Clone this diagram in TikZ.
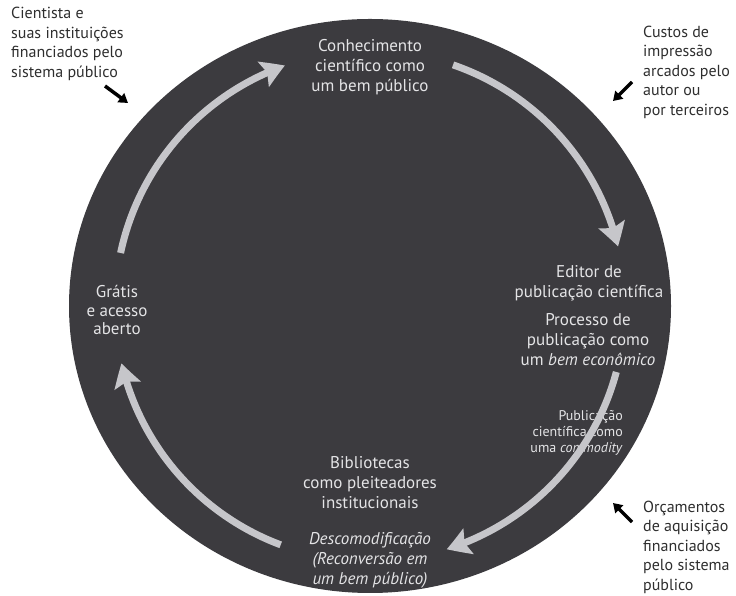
\documentclass[tikz,border=0pt]{standalone}
\usepackage{fontspec}
\setmainfont{PT Sans}
\usetikzlibrary{arrows.meta,bending}
\definecolor{disc}{HTML}{3C3B3F}
\definecolor{arccol}{HTML}{C6C6CA}
\definecolor{intext}{HTML}{E4E4E6}
\definecolor{outtext}{HTML}{2E2E2E}
\begin{document}
\begin{tikzpicture}[x=1pt,y=1pt,
  intxt/.style={text=intext, align=center, font=\fontsize{17}{20}\selectfont, inner sep=0pt},
  smalltxt/.style={text=intext, align=right, anchor=east, font=\fontsize{14}{16}\selectfont, inner sep=0pt},
  outtxt/.style={text=outtext, align=left, anchor=west, font=\fontsize{16}{19.5}\selectfont, inner sep=0pt},
  cyc/.style={draw=arccol, line width=7pt, -{Stealth[length=23pt,width=27pt,inset=4pt,bend]}},
  ptr/.style={draw=black, line width=3.5pt, -{Triangle[length=9pt,width=11pt]}}]
\useasboundingbox (0,0) rectangle (736,596);
\coordinate (c) at (370,290);
\fill[disc] (c) ellipse[x radius=301, y radius=287];

% texts inside
\node[intxt] (know) at (370,529) {Conhecimento\\científico como\\um bem público};
\node[intxt] (editor) at (589,313) {Editor de\\publicação científica};
\node[intxt] (proc) at (588,256) {Processo de\\publicação como\\um \textit{bem econômico}};
\node[smalltxt] (pub) at (623,163) {Publicação\\científica como\\uma \textit{commodity}};
\node[intxt] (bib) at (370,113) {Bibliotecas\\como pleiteadores\\institucionais};
\node[intxt] (desc) at (370,36) {\textit{Descomodificação}\\\textit{(Reconversão em}\\\textit{um bem público)}};
\node[intxt, font=\fontsize{17}{18.5}\selectfont] (free) at (117,286) {Grátis\\e acesso\\aberto};

% cycle arrows
\coordinate (a1s) at ([shift={(168:255)}]c);
\coordinate (a2s) at ([shift={(71:255)}]c);
\coordinate (a3s) at ([shift={(-15:255)}]c);
\coordinate (a4s) at ([shift={(-110.5:255)}]c);
\draw[cyc] (a1s) arc[start angle=168, end angle=109.5, radius=255];
\draw[cyc] (a2s) arc[start angle=71, end angle=13.5, radius=255];
\draw[cyc] (a3s) arc[start angle=-15, end angle=-72.5, radius=255];
\draw[cyc] (a4s) arc[start angle=-110.5, end angle=-167, radius=255];

% outside labels
\node[outtxt] (sci) at (11,552) {Cientista e\\suas instituições\\financiados pelo\\sistema público};
\node[outtxt] (cost) at (643,524) {Custos de\\impressão\\arcados pelo\\autor ou\\por terceiros};
\node[outtxt] (budget) at (643,49) {Orçamentos\\de aquisição\\financiados\\pelo sistema\\público};

\coordinate (p1s) at (105,510); \coordinate (p1e) at (128,493);
\coordinate (p2s) at (632,514); \coordinate (p2e) at (613,495);
\coordinate (p3s) at (632,74);  \coordinate (p3e) at (613,93);
\draw[ptr] (p1s) -- (p1e);
\draw[ptr] (p2s) -- (p2e);
\draw[ptr] (p3s) -- (p3e);
\end{tikzpicture}
\end{document}
